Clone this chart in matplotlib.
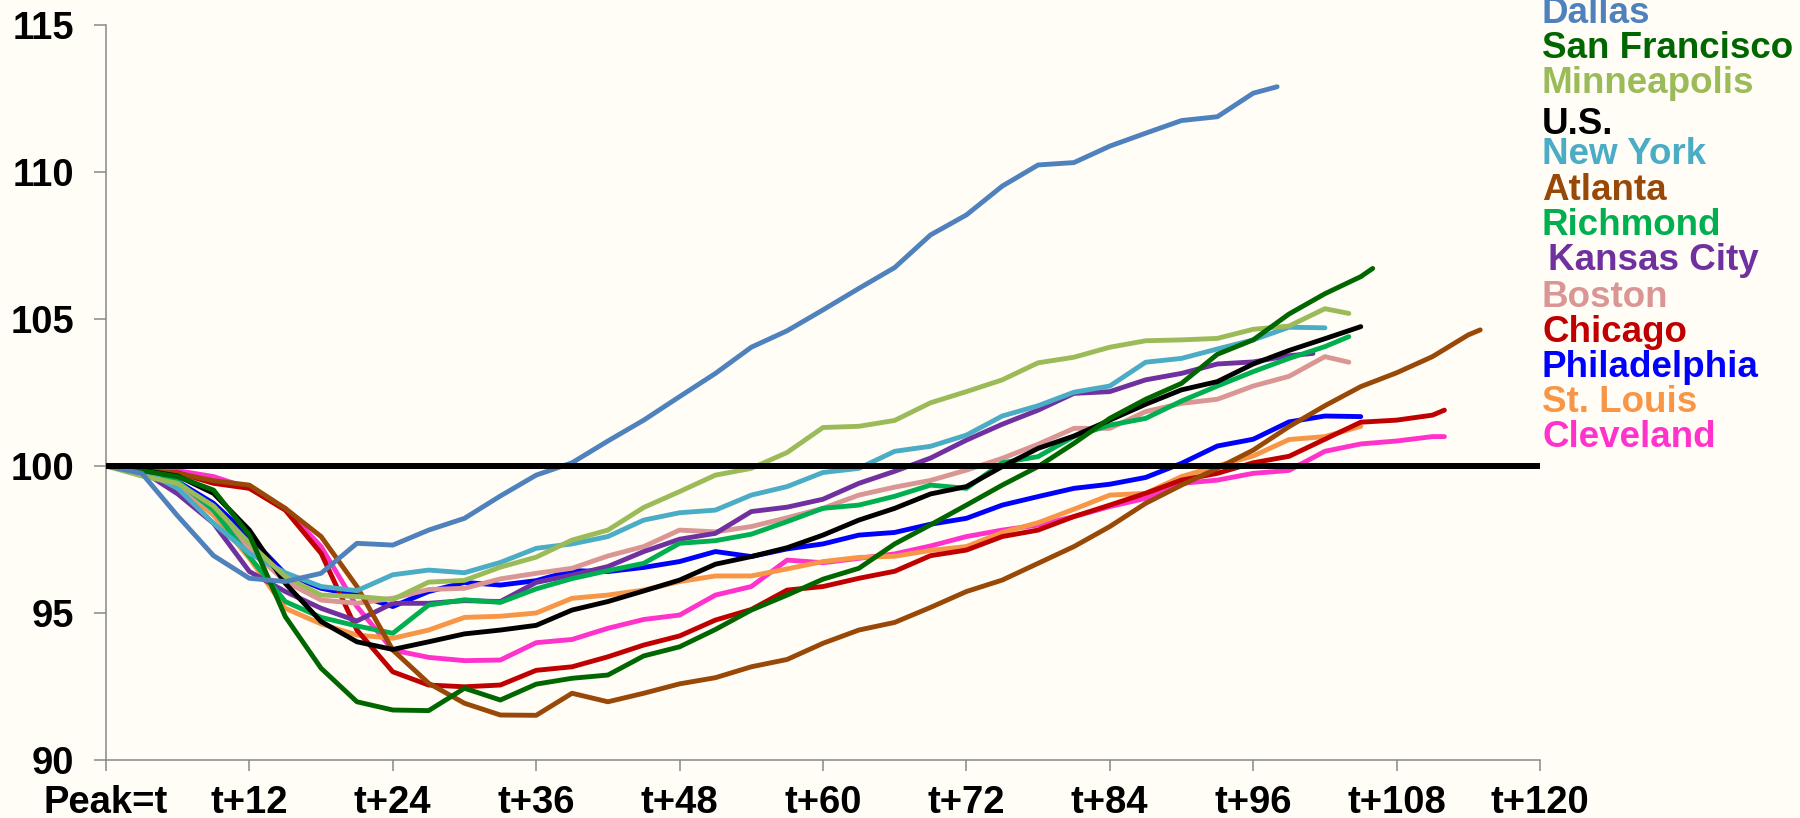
import matplotlib
matplotlib.use("Agg")
import matplotlib.pyplot as plt

# months since the employment peak, every 3 months; the last value of each
# series sits at that series' own last month
last_month = {
    "Dallas": 98, "San Francisco": 106, "Minneapolis": 104, "U.S.": 105,
    "New York": 102, "Atlanta": 115, "Richmond": 104, "Kansas City": 101,
    "Boston": 104, "Chicago": 112, "Philadelphia": 105, "St. Louis": 105,
    "Cleveland": 112,
}

dallas = [100, 99.75, 98.3, 96.95, 96.18, 96.07, 96.35, 97.37, 97.31, 97.82,
          98.22, 98.98, 99.69, 100.11, 100.85, 101.56, 102.36, 103.15, 104.04,
          104.6, 105.31, 106.04, 106.75, 107.86, 108.54, 109.52, 110.24,
          110.32, 110.88, 111.32, 111.75, 111.88, 112.68, 112.9]
san_francisco = [100, 99.84, 99.64, 99.18, 97.65, 94.88, 93.12, 91.98, 91.7,
                 91.68, 92.44, 92.04, 92.58, 92.78, 92.89, 93.54, 93.85, 94.44,
                 95.1, 95.61, 96.15, 96.52, 97.35, 98.0, 98.67, 99.35, 99.98,
                 100.77, 101.62, 102.27, 102.81, 103.8, 104.29, 105.17, 105.86,
                 106.44, 106.72]
minneapolis = [100, 99.66, 99.41, 98.64, 97.37, 96.24, 95.61, 95.56, 95.46,
               96.05, 96.11, 96.56, 96.9, 97.48, 97.82, 98.59, 99.13, 99.69,
               99.92, 100.46, 101.31, 101.35, 101.55, 102.15, 102.53, 102.93,
               103.51, 103.7, 104.04, 104.26, 104.29, 104.34, 104.65, 104.76,
               105.35, 105.19]
us = [100, 99.86, 99.66, 99.07, 97.82, 96.01, 94.71, 94.02, 93.76, 94.02,
      94.29, 94.42, 94.58, 95.1, 95.39, 95.75, 96.12, 96.66, 96.92, 97.22,
      97.65, 98.16, 98.56, 99.05, 99.3, 99.98, 100.6, 101.02, 101.56, 102.1,
      102.59, 102.87, 103.47, 103.93, 104.33, 104.74]
new_york = [100, 99.86, 99.24, 98.05, 97.03, 96.37, 95.9, 95.76, 96.3, 96.46,
            96.37, 96.72, 97.2, 97.35, 97.6, 98.16, 98.41, 98.5, 99.01, 99.3,
            99.78, 99.92, 100.5, 100.67, 101.05, 101.7, 102.05, 102.51,
            102.72, 103.53, 103.66, 103.98, 104.29, 104.72, 104.7]
atlanta = [100, 99.86, 99.75, 99.5, 99.35, 98.56, 97.6, 95.9, 93.74, 92.61,
           91.93, 91.53, 91.52, 92.27, 91.98, 92.27, 92.59, 92.8, 93.17, 93.42,
           93.97, 94.42, 94.68, 95.19, 95.73, 96.12, 96.69, 97.26, 97.94,
           98.73, 99.35, 99.92, 100.54, 101.34, 102.05, 102.7, 103.17, 103.72,
           104.46, 104.63]
richmond = [100, 99.84, 99.47, 98.5, 96.92, 95.39, 94.85, 94.56, 94.31, 95.27,
            95.45, 95.36, 95.82, 96.17, 96.44, 96.69, 97.37, 97.46, 97.68,
            98.11, 98.56, 98.67, 98.97, 99.35, 99.24, 100.11, 100.32, 101.0,
            101.39, 101.62, 102.21, 102.72, 103.21, 103.66, 104.06, 104.4]
kansas_city = [100, 99.84, 99.05, 98.05, 96.41, 95.73, 95.16, 94.73, 95.33,
               95.33, 95.42, 95.39, 96.04, 96.29, 96.58, 97.09, 97.51, 97.71,
               98.45, 98.6, 98.87, 99.41, 99.82, 100.27, 100.88, 101.42,
               101.9, 102.47, 102.53, 102.93, 103.15, 103.47, 103.54, 103.75,
               103.83]
boston = [100, 99.84, 99.35, 98.45, 97.2, 96.07, 95.44, 95.33, 95.5, 95.8,
          95.84, 96.16, 96.35, 96.52, 96.94, 97.26, 97.82, 97.76, 97.94, 98.24,
          98.56, 99.01, 99.28, 99.51, 99.86, 100.26, 100.74, 101.28, 101.28,
          101.85, 102.13, 102.27, 102.72, 103.05, 103.72, 103.53]
chicago = [100, 99.77, 99.77, 99.41, 99.24, 98.5, 97.03, 94.42, 93.0, 92.55,
           92.49, 92.55, 93.05, 93.17, 93.51, 93.91, 94.22, 94.76, 95.12,
           95.78, 95.9, 96.18, 96.42, 96.95, 97.14, 97.6, 97.82, 98.28, 98.67,
           99.07, 99.52, 99.75, 100.11, 100.33, 100.91, 101.49, 101.56,
           101.73, 101.9]
philadelphia = [100, 99.86, 99.47, 98.73, 97.6, 96.33, 95.84, 95.61, 95.22,
                95.73, 96.04, 95.95, 96.1, 96.44, 96.41, 96.55, 96.75, 97.09,
                96.92, 97.18, 97.35, 97.65, 97.74, 98.02, 98.22, 98.67, 98.96,
                99.24, 99.38, 99.61, 100.09, 100.68, 100.91, 101.5, 101.7,
                101.68]
st_louis = [100, 99.77, 99.3, 98.33, 96.86, 95.16, 94.63, 94.25, 94.14, 94.42,
            94.85, 94.89, 95.0, 95.5, 95.61, 95.78, 96.07, 96.26, 96.26, 96.5,
            96.75, 96.89, 96.93, 97.13, 97.26, 97.74, 98.07, 98.53, 99.01,
            99.07, 99.64, 100.0, 100.34, 100.9, 101.0, 101.35]
cleveland = [100, 99.84, 99.84, 99.64, 99.24, 98.56, 97.26, 95.22, 93.74,
             93.49, 93.38, 93.4, 93.99, 94.1, 94.48, 94.78, 94.93, 95.61, 95.9,
             96.8, 96.71, 96.86, 97.01, 97.28, 97.6, 97.82, 97.99, 98.28,
             98.62, 98.9, 99.41, 99.52, 99.75, 99.85, 100.5, 100.75, 100.85,
             101.0, 101.0]

cities = ["Dallas", "San Francisco", "Minneapolis", "U.S.", "New York",
          "Atlanta", "Richmond", "Kansas City", "Boston", "Chicago",
          "Philadelphia", "St. Louis", "Cleveland"]
values = [dallas, san_francisco, minneapolis, us, new_york, atlanta, richmond,
          kansas_city, boston, chicago, philadelphia, st_louis, cleveland]
colors = ["#4F81BD", "#006600", "#9BBB59", "#000000", "#4BACC6", "#984807",
          "#00B050", "#7030A0", "#D99694", "#C00000", "#0000FF", "#F79646",
          "#FF33CC"]

xtick_pos = list(range(0, 121, 12))
xtick_labels = ["Peak=t"] + ["t+%d" % m for m in xtick_pos[1:]]
ytick_pos = [90, 95, 100, 105, 110, 115]

bg = "#FFFDF6"
plt.rcParams["font.family"] = ["Liberation Sans", "DejaVu Sans"]
plt.rcParams["font.weight"] = "bold"

fig = plt.figure(figsize=(18, 8.18), dpi=100, facecolor=bg)
# axes box in pixels: left 106, right 1540, top 25, bottom 760
ax = fig.add_axes([106 / 1800, 1 - 760 / 818, (1540 - 106) / 1800, (760 - 25) / 818])
ax.set_facecolor(bg)

# draw the bottom of the legend first so the U.S. line ends up on top of most
for name, vals, col in reversed(list(zip(cities, values, colors))):
    n = len(vals)
    months = list(range(0, 3 * (n - 1), 3)) + [last_month[name]]
    ax.plot(months, vals, color=col, lw=3.5, solid_joinstyle="round",
            solid_capstyle="round", zorder=3)

ax.axhline(100, color="black", lw=4.3, zorder=4)

ax.set_xlim(0, 120)
ax.set_ylim(90, 115)
ax.set_xticks(xtick_pos)
ax.set_xticklabels(xtick_labels)
ax.set_yticks(ytick_pos)
ax.tick_params(axis="both", direction="out", color="#888888", width=1.1,
               labelsize=27.5)
ax.tick_params(axis="x", length=8, pad=10)
ax.tick_params(axis="y", length=9, pad=14)
for lab in ax.get_xticklabels() + ax.get_yticklabels():
    lab.set_fontweight("bold")

for side in ["top", "right"]:
    ax.spines[side].set_visible(False)
for side in ["left", "bottom"]:
    ax.spines[side].set_color("#888888")
    ax.spines[side].set_linewidth(1.1)

# city names stacked at the right, coloured like their lines
label_baselines = [23, 58.5, 93, 133.5, 164.5, 200.5, 235, 270, 306.5, 342,
                   377, 412, 447]
for name, col, base in zip(cities, colors, label_baselines):
    x_px = 1548 if name == "Kansas City" else 1542
    fig.text(x_px / 1800, 1 - base / 818, name, color=col, fontsize=26.5,
             fontweight="bold", va="baseline", ha="left")

fig.savefig("out.png", dpi=100, facecolor=bg)
